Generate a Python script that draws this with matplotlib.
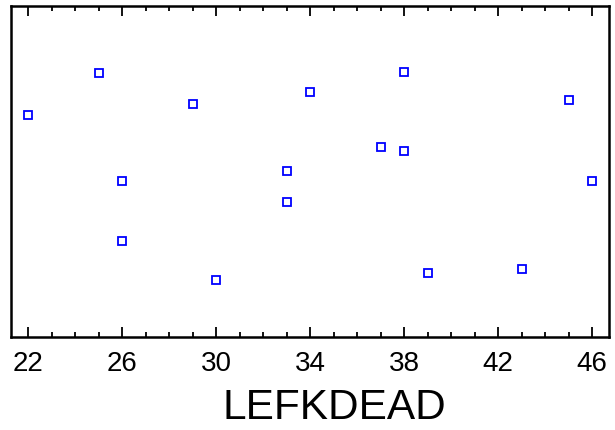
import matplotlib
matplotlib.use("Agg")
from matplotlib import pyplot as plt
from matplotlib.ticker import MultipleLocator

plt.rcParams['font.family'] = ['Liberation Sans', 'DejaVu Sans']

# LEFKDEAD values and the (unlabelled) vertical variable
lefkdead = [22, 25, 26, 26, 29, 30, 33, 33, 34, 37, 38, 38, 39, 43, 45, 46]
yvals = [222, 264, 156, 96, 233, 57, 166, 135, 245, 190, 265, 186, 64, 68, 237, 156]

fig = plt.figure(figsize=(6.15, 4.3), dpi=100)
ax = fig.add_axes([11/615, 1 - 337/430, 598/615, 331/430])

ax.plot(lefkdead, yvals, linestyle='none', marker='s', markersize=5.5,
        markerfacecolor='none', markeredgecolor='#0000ff', markeredgewidth=1.3)

ax.set_xlim(21.27, 46.72)
ax.set_ylim(0, 331)
ax.xaxis.set_major_locator(MultipleLocator(4))
ax.xaxis.set_minor_locator(MultipleLocator(1))
ax.set_xticks(range(22, 47, 4))
ax.tick_params(axis='x', which='both', direction='in', top=True, bottom=True,
               width=1.3, labelsize=20, pad=10)
ax.tick_params(axis='x', which='major', length=7)
ax.tick_params(axis='x', which='minor', length=3.5)
ax.set_yticks([])
for s in ax.spines.values():
    s.set_linewidth(1.8)

ax.set_xlabel('LEFKDEAD', fontsize=30.5)
ax.xaxis.set_label_coords(0.54, -0.153)

fig.savefig('out.png', dpi=100)
